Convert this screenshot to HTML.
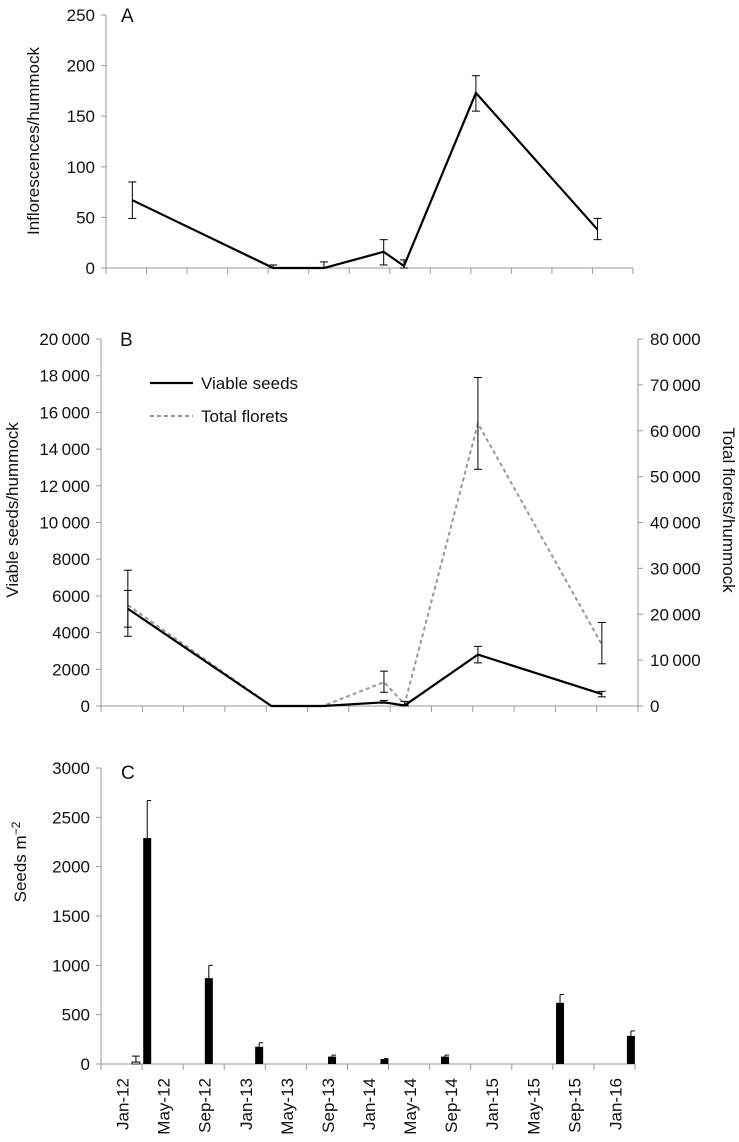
<!DOCTYPE html>
<html><head><meta charset="utf-8"><style>
html,body{margin:0;padding:0;background:#fff;}
svg{display:block;font-family:"Liberation Sans",Arial,sans-serif;}
</style></head><body>
<svg id="chart" width="739" height="1142" viewBox="0 0 739 1142" xmlns="http://www.w3.org/2000/svg"></svg>
<script>
// ---- Panel A data (months since Jan-12) ----
const monthsA = [2.6, 16.5, 21.5, 27.4, 29.4, 36.5, 48.5];
const inflor = [67, 0, 0, 16, 2, 173, 38];
const inflorLo = [49, 0, 0, 3, 0, 155, 28];
const inflorHi = [85, 3, 6, 28, 8, 190, 49];
const ticksA = [0, 50, 100, 150, 200, 250];
// ---- Panel B data ----
const viable = [5300, 0, 0, 200, 30, 2800, 650];
const viableLo = [4300, 0, 0, 150, 0, 2350, 500];
const viableHi = [6300, 0, 0, 300, 60, 3250, 800];
const florets = [22000, 0, 0, 5200, 400, 61600, 13400];
const floretsLo = [15200, 0, 0, 3000, 0, 51600, 9200];
const floretsHi = [29600, 0, 0, 7600, 1000, 71600, 18200];
const ticksBL = [0, 2000, 4000, 6000, 8000, 10000, 12000, 14000, 16000, 18000, 20000];
const ticksBR = [0, 10000, 20000, 30000, 40000, 50000, 60000, 70000, 80000];
// ---- Panel C data ----
const categoriesC = ["Jan-12","May-12","Sep-12","Jan-13","May-13","Sep-13","Jan-14","May-14","Sep-14","Jan-15","May-15","Sep-15","Jan-16"];
const monthsC = [4.5, 10.5, 15.4, 22.5, 27.6, 33.5, 44.7, 51.6];
const seeds = [2290, 870, 175, 75, 50, 75, 620, 285];
const seedsHi = [2670, 1000, 215, 90, 55, 90, 705, 335];
const openMonth = [3.4];
const openVal = [20];
const openHi = [80];
const ticksC = [0, 500, 1000, 1500, 2000, 2500, 3000];

const svg = document.getElementById('chart');
const NS = 'http://www.w3.org/2000/svg';
function mk(tag, attrs, parent){const e=document.createElementNS(NS,tag);for(const k in attrs)e.setAttribute(k,attrs[k]);(parent||svg).appendChild(e);return e;}
function fmt(v){return v>=10000? String(v).replace(/(\d+)(\d{3})$/,'$1\u2009$2') : String(v);}
const AX='#9a9a9a';
const FS=17;

function errBar(g,x,y1,y2){
  mk('line',{x1:x,y1:y1,x2:x,y2:y2,stroke:'#000','stroke-width':1},g);
  mk('line',{x1:x-4,y1:y1,x2:x+4,y2:y1,stroke:'#000','stroke-width':1},g);
  mk('line',{x1:x-4,y1:y2,x2:x+4,y2:y2,stroke:'#000','stroke-width':1},g);
}
function xAxis(g,x0,x1,y,n){
  mk('line',{x1:x0,y1:y,x2:x1,y2:y,stroke:AX,'stroke-width':1},g);
  for(let i=0;i<=n;i++){const x=x0+(x1-x0)*i/n;mk('line',{x1:x,y1:y,x2:x,y2:y+6,stroke:AX,'stroke-width':1},g);}
}
function yAxis(g,x,yTop,yBot,ticks,max,right){
  mk('line',{x1:x,y1:yTop,x2:x,y2:yBot,stroke:AX,'stroke-width':1},g);
  ticks.forEach(t=>{const y=yBot-(yBot-yTop)*t/max;
    mk('line',{x1:right?x:x-5,y1:y,x2:right?x+5:x,y2:y,stroke:AX,'stroke-width':1},g);
    const tx=mk('text',{x:right?x+12:x-11,y:y+6,'font-size':FS,'text-anchor':right?'start':'end',fill:'#111'},g);
    tx.textContent=fmt(t);
    
    
  });
}
function vlabel(g,x,y,txt,name,rot){
  const t=mk('text',{x:x,y:y,'font-size':FS,'text-anchor':'middle',fill:'#111',transform:`rotate(${rot||-90} ${x} ${y})`},g);
  t.textContent=txt;return t;
}

// ===== Panel A =====
(function(){
  const g=mk('g',{});
  const x0=106,x1=633,yT=15,yB=268,max=250;
  const X=m=>x0+(x1-x0)*m/52, Y=v=>yB-(yB-yT)*v/max;
  xAxis(g,x0,x1,yB,13); yAxis(g,x0,yT,yB,ticksA,max);
  const t=mk('text',{x:121,y:22,'font-size':19,fill:'#111'},g);t.textContent='A';
  
  vlabel(g,39,141,'Inflorescences/hummock','y-axis-title-a');
  const l=mk('polyline',{points:monthsA.map((m,i)=>X(m)+','+Y(inflor[i])).join(' '),fill:'none',stroke:'#000','stroke-width':2.2},g);
  
  monthsA.forEach((m,i)=>errBar(g,X(m),Y(inflorHi[i]),Y(inflorLo[i])));
})();

// ===== Panel B =====
(function(){
  const g=mk('g',{});
  const x0=101,x1=638,yT=339,yB=706;
  const X=m=>x0+(x1-x0)*m/52, YL=v=>yB-(yB-yT)*v/20000, YR=v=>yB-(yB-yT)*v/80000;
  xAxis(g,x0,x1,yB,13); yAxis(g,x0,yT,yB,ticksBL,20000); yAxis(g,x1,yT,yB,ticksBR,80000,true);
  const t=mk('text',{x:120,y:346,'font-size':19,fill:'#111'},g);t.textContent='B';
  
  vlabel(g,18,510,'Viable seeds/hummock','y-axis-title-left');
  vlabel(g,723,510,'Total florets/hummock','y-axis-title-right',90);
  const d=mk('polyline',{points:monthsA.map((m,i)=>X(m)+','+YR(florets[i])).join(' '),fill:'none',stroke:'#999','stroke-width':2,'stroke-dasharray':'4,3'},g);
  
  const l=mk('polyline',{points:monthsA.map((m,i)=>X(m)+','+YL(viable[i])).join(' '),fill:'none',stroke:'#000','stroke-width':2.2},g);
  
  monthsA.forEach((m,i)=>{ if(viableHi[i]>0) errBar(g,X(m),YL(viableHi[i]),YL(viableLo[i])); });
  monthsA.forEach((m,i)=>{ if(floretsHi[i]>0) errBar(g,X(m),YR(floretsHi[i]),YR(floretsLo[i])); });
  // legend
  const lg=mk('g',{},g);
  mk('line',{x1:150,y1:383,x2:193,y2:383,stroke:'#000','stroke-width':2.2},lg);
  const a=mk('text',{x:201,y:389,'font-size':FS,fill:'#111'},lg);a.textContent='Viable seeds';
  
  mk('line',{x1:150,y1:416,x2:193,y2:416,stroke:'#999','stroke-width':2,'stroke-dasharray':'4,3'},lg);
  const b=mk('text',{x:201,y:422,'font-size':FS,fill:'#111'},lg);b.textContent='Total florets';
  
})();

// ===== Panel C =====
(function(){
  const g=mk('g',{});
  const x0=101,x1=635,yT=768,yB=1064,max=3000;
  const X=m=>x0+(x1-x0)*m/52, Y=v=>yB-(yB-yT)*v/max;
  yAxis(g,x0,yT,yB,ticksC,max); xAxis(g,x0,x1,yB,13);
  const t=mk('text',{x:121,y:779,'font-size':19,fill:'#111'},g);t.textContent='C';
  
  const yl=mk('text',{x:26,y:862,'font-size':FS,'text-anchor':'middle',fill:'#111',transform:'rotate(-90 26 862)'},g);
  yl.innerHTML='Seeds m<tspan dy="-6" font-size="12">\u22122</tspan>';
  
  categoriesC.forEach((c,i)=>{
    const cx=x0+(x1-x0)*(i+0.5)/13+7, ty=1078;
    const tx=mk('text',{x:cx,y:ty,'font-size':FS,'text-anchor':'end',fill:'#111',transform:`rotate(-90 ${cx} ${ty})`},g);
    tx.textContent=c;
  });
  openMonth.forEach((m,i)=>{
    const r=mk('rect',{x:X(m)-4,y:Y(openVal[i]),width:8,height:yB-Y(openVal[i]),fill:'#fff',stroke:'#000','stroke-width':0.8},g);
    
    errBar(g,X(m),Y(openHi[i]),Y(openVal[i]));
  });
  monthsC.forEach((m,i)=>{
    const x=X(m);
    mk('line',{x1:x,y1:Y(seedsHi[i]),x2:x,y2:Y(seeds[i]),stroke:'#000','stroke-width':1},g);
    mk('line',{x1:x,y1:Y(seedsHi[i]),x2:x+4,y2:Y(seedsHi[i]),stroke:'#000','stroke-width':1},g);
    const r=mk('rect',{x:x-4,y:Y(seeds[i]),width:8,height:yB-Y(seeds[i]),fill:'#000'},g);
    
  });
})();
</script>
</body></html>
